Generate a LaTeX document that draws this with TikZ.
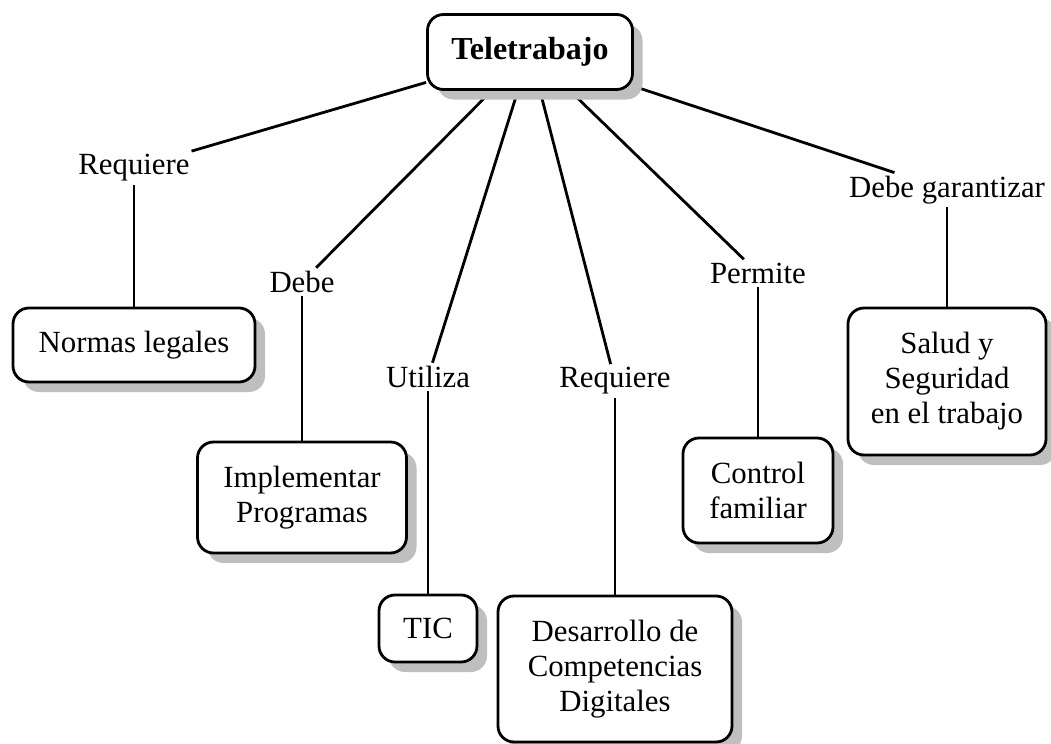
\documentclass[tikz,border=0pt]{standalone}
\usepackage{fontspec}
\setmainfont{Liberation Serif}
\usetikzlibrary{shadows,backgrounds}
\tikzset{
   concept/.style = {draw, line width=1.4pt, rounded corners=8pt, fill=white, align=center, inner sep=2pt,
      drop shadow={shadow xshift=5pt, shadow yshift=-5pt, fill=black!25, opacity=1}},
   linklabel/.style = {inner sep=1.5pt},
   link/.style = {line width=1.4pt}
}

\begin{document}
\begin{tikzpicture}[x=0.5pt, y=-0.5pt, font=\fontsize{15.4}{17.5}\selectfont]
		\useasboundingbox (0,0) rectangle (1051,744);

		% Main concept
		\node[concept, minimum width=102.5pt, minimum height=37.5pt, font=\fontsize{16}{18}\selectfont\bfseries] (tele) at (530,52) {Teletrabajo};

		% Link labels
		\node[linklabel] (lnorm) at (134,168) {Requiere};
		\node[linklabel] (limpl) at (302,282) {Debe};
		\node[linklabel] (ltic) at (428,377) {Utiliza};
		\node[linklabel] (ldesa) at (615,381) {Requiere};
		\node[linklabel] (lctrl) at (758,273) {Permite};
		\node[linklabel] (lsalud) at (947,190) {Debe garantizar};

		% Concepts
		\node[concept, minimum width=121pt, minimum height=37pt] (norm) at (134,345) {Normas legales};
		\node[concept, minimum width=104.5pt, minimum height=55.5pt] (impl) at (302,497.5) {Implementar\\Programas};
		\node[concept, minimum width=49pt, minimum height=33.5pt] (tic) at (428,628.5) {TIC};
		\node[concept, minimum width=117pt, minimum height=73pt] (desa) at (615,669) {Desarrollo de\\Competencias\\Digitales};
		\node[concept, minimum width=75pt, minimum height=52.5pt] (ctrl) at (758,490.5) {Control\\familiar};
		\node[concept, minimum width=99pt, minimum height=73.5pt] (salud) at (947,381.5) {Salud y\\Seguridad\\en el trabajo};

		% Connectors
		\begin{scope}[on background layer]
			\foreach \l/\c in {lnorm/norm, limpl/impl, ltic/tic, ldesa/desa, lctrl/ctrl, lsalud/salud}{
				\draw[link] (tele) -- (\l);
				\draw[link] (\l) -- (\c);
			}
		\end{scope}
	\end{tikzpicture}
\end{document}
